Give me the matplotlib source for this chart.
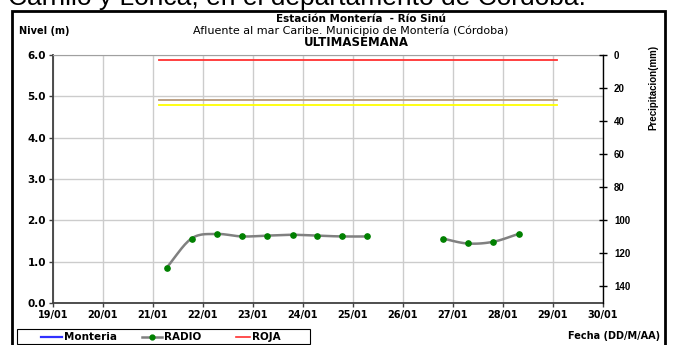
import numpy as np
import matplotlib.pyplot as plt
from matplotlib.lines import Line2D
from matplotlib.patches import Rectangle

plt.rcParams['font.family'] = ['Liberation Sans', 'DejaVu Sans']

# Lecturas de nivel (RADIO), dia de enero con fraccion horaria
radio_dias = [21.27, 21.77, 22.27, 22.78, 23.28, 23.79, 24.28, 24.78, 25.28,
              26.79, 27.29, 27.80, 28.31]
radio_nivel = [0.85, 1.56, 1.67, 1.61, 1.63, 1.65, 1.63, 1.61, 1.61,
               1.56, 1.44, 1.48, 1.67]
# tramos con datos continuos (indices de inicio y fin)
tramos = [(0, 9), (9, 13)]

# Umbrales de alerta
roja_nivel = 5.87
naranja_nivel = 4.90
amarilla_nivel = 4.80
umbral_inicio, umbral_fin = 21.12, 29.08

dias_ticks = list(range(19, 31))
etiquetas_x = [f"{d:02d}/01" for d in dias_ticks]
nivel_ticks = [0, 1, 2, 3, 4, 5, 6]
precip_ticks = [0, 20, 40, 60, 80, 100, 120, 140]

ANCHA = 'DejaVu Sans'


def suavizar(x, y, n=16):
    # curva Catmull-Rom que pasa por todos los puntos
    x = np.asarray(x, float)
    y = np.asarray(y, float)
    if len(x) < 3:
        return x, y
    px = np.concatenate([[2 * x[0] - x[1]], x, [2 * x[-1] - x[-2]]])
    py = np.concatenate([[2 * y[0] - y[1]], y, [2 * y[-1] - y[-2]]])
    t = np.linspace(0, 1, n)[:, None]
    xs, ys = [], []
    for i in range(1, len(px) - 2):
        for p, out in ((px, xs), (py, ys)):
            p0, p1, p2, p3 = p[i - 1], p[i], p[i + 1], p[i + 2]
            seg = 0.5 * (2 * p1 + (-p0 + p2) * t + (2 * p0 - 5 * p1 + 4 * p2 - p3) * t ** 2
                         + (-p0 + 3 * p1 - 3 * p2 + p3) * t ** 3)
            out.append(seg.ravel())
    return np.concatenate(xs), np.concatenate(ys)


W, H = 674, 345
fig = plt.figure(figsize=(W / 100, H / 100), dpi=100)


def fx(px):
    return px / W


def fy(py):
    return 1 - py / H


ax = fig.add_axes([fx(53), fy(303), fx(603) - fx(53), fy(55) - fy(303)])

# umbrales
ax.plot([umbral_inicio, umbral_fin], [roja_nivel] * 2, color='#ff3030', lw=1.3, zorder=3)
ax.plot([umbral_inicio, umbral_fin], [naranja_nivel] * 2, color='#b89878', lw=1.3, zorder=3)
ax.plot([umbral_inicio, umbral_fin], [amarilla_nivel] * 2, color='#ffff00', lw=1.3, zorder=3)

# serie RADIO suavizada
for a, b in tramos:
    sx, sy = suavizar(radio_dias[a:b], radio_nivel[a:b])
    ax.plot(sx, sy, color='#808080', lw=1.8, zorder=4, solid_capstyle='round')
ax.plot(radio_dias, radio_nivel, ls='none', marker='o', ms=3.8,
        mfc='#008000', mec='#008000', zorder=5)

ax.set_xlim(19, 30)
ax.set_ylim(0, 6)
ax.set_xticks(dias_ticks)
ax.set_xticklabels(etiquetas_x, family=ANCHA, fontweight='bold', fontsize=7)
ax.set_yticks(nivel_ticks)
ax.set_yticklabels([f"{v:.1f}" for v in nivel_ticks], family=ANCHA,
                   fontweight='bold', fontsize=7.5)
ax.grid(True, color='#cccccc', lw=1.0)
ax.set_axisbelow(True)
ax.tick_params(axis='both', direction='out', length=3, width=1,
               color='#404040', pad=2)
ax.spines['left'].set_color('#404040')
ax.spines['left'].set_linewidth(1.3)
ax.spines['bottom'].set_color('#404040')
ax.spines['bottom'].set_linewidth(1.3)
ax.spines['top'].set_color('#a0a0a0')
ax.spines['right'].set_visible(False)

# eje de precipitacion (invertido)
ax2 = ax.twinx()
ax2.set_ylim(150, 0)
ax2.set_yticks(precip_ticks)
ax2.tick_params(axis='y', labelsize=7, direction='inout', length=6, width=1,
                color='black', pad=5)
for lab in ax2.get_yticklabels():
    lab.set_fontweight('bold')
for s in ('left', 'top', 'bottom'):
    ax2.spines[s].set_visible(False)
ax2.spines['right'].set_color('black')
ax2.spines['right'].set_linewidth(1.0)
fig.text(fx(653), fy(87), 'Precipitacion(mm)', rotation=90, ha='center', va='center',
         fontsize=7, fontweight='bold')

# textos del encabezado
fig.text(fx(8), fy(5), 'Carrillo y Lorica, en el departamento de Córdoba.',
         fontsize=19, ha='left', va='baseline')
fig.text(fx(361), fy(19), 'Estación Montería  - Río Sinú', ha='center', va='center',
         family=ANCHA, fontsize=7.5, fontweight='bold')
fig.text(fx(351), fy(31), 'Afluente al mar Caribe. Municipio de Montería (Córdoba)',
         ha='center', va='center', family=ANCHA, fontsize=8)
fig.text(fx(356), fy(42), 'ULTIMASEMANA', ha='center', va='center',
         family=ANCHA, fontsize=8.5, fontweight='bold')
fig.text(fx(19), fy(31), 'Nivel (m)', ha='left', va='center', family=ANCHA,
         fontsize=7, fontweight='bold')
fig.text(fx(660), fy(336), 'Fecha (DD/M/AA)', ha='right', va='center',
         family=ANCHA, fontsize=7, fontweight='bold')

# marco exterior
fig.patches.append(Rectangle((fx(12), fy(352)), fx(665) - fx(12), fy(11) - fy(352),
                             transform=fig.transFigure, fill=False, ec='black', lw=2))

# leyenda
fig.patches.append(Rectangle((fx(17), fy(344)), fx(310) - fx(17), fy(329) - fy(344),
                             transform=fig.transFigure, fill=False, ec='black', lw=0.8))
ley_y = fy(337)
entradas = [
    ('Monteria', (41, 62), dict(color='#3030ff', lw=1.6), None),
    ('RADIO', (142, 162), dict(color='#808080', lw=1.8), '#008000'),
    ('ROJA', (236, 250), dict(color='#ff3030', lw=1.2), None),
]
for texto, (x0, x1), estilo, marca in entradas:
    fig.add_artist(Line2D([fx(x0), fx(x1)], [ley_y, ley_y], transform=fig.transFigure,
                          **estilo))
    if marca:
        fig.add_artist(Line2D([fx((x0 + x1) / 2)], [ley_y], transform=fig.transFigure,
                              ls='none', marker='o', ms=3.5, mfc=marca, mec=marca))
    fig.text(fx(x1 + 2), ley_y, texto, ha='left', va='center', family=ANCHA,
             fontsize=7.5, fontweight='bold')

fig.savefig('out.png', dpi=100)
